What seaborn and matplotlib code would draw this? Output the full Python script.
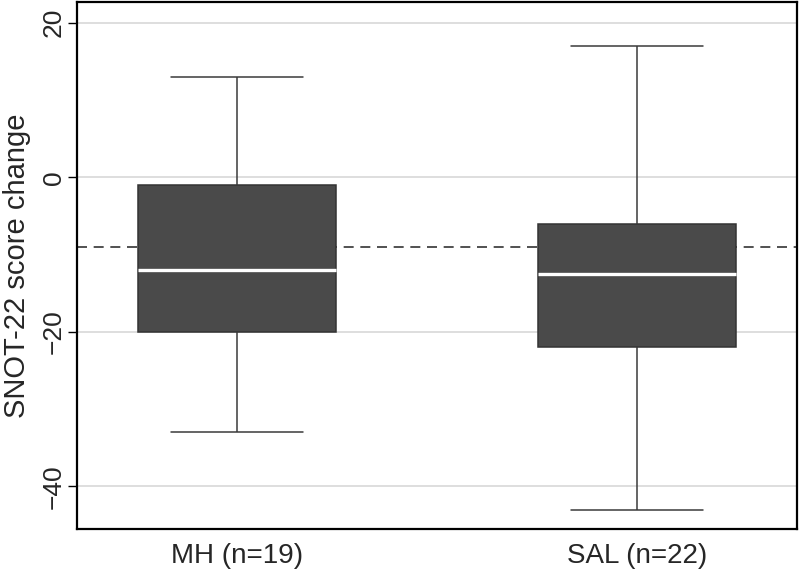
import numpy as np
import pandas as pd
import seaborn as sns
import matplotlib.pyplot as plt

# five-number summaries (min, q1, median, q3, max)
groups = ['MH (n=19)', 'SAL (n=22)']
mh_values = [-33, -20, -12, -1, 13]
sal_values = [-43, -22, -12.5, -6, 17]
overall_median = -9
y_ticks = [-40, -20, 0, 20]

df = pd.DataFrame({
    'group': [groups[0]] * len(mh_values) + [groups[1]] * len(sal_values),
    'change': mh_values + sal_values,
})

sns.set_style('white')
plt.rcParams['font.family'] = ['Liberation Sans', 'DejaVu Sans']

fig = plt.figure(figsize=(8, 5.75), dpi=100)
ax = fig.add_axes([0.096, 0.080, 0.900, 0.917])

sns.boxplot(data=df, x='group', y='change', ax=ax, whis=(0, 100),
            width=0.495, color='#4a4a4a', saturation=1, linecolor='#333333',
            linewidth=1.1,
            medianprops=dict(color='white', lw=2.4),
            whiskerprops=dict(color='#3a3a3a', lw=1.1),
            capprops=dict(color='#3a3a3a', lw=1.1),
            boxprops=dict(zorder=2))

# Stata-style caps: a bit wider than seaborn's default
cap_half = 0.165
for ln in ax.lines:
    xd = np.asarray(ln.get_xdata(), dtype=float)
    yd = np.asarray(ln.get_ydata(), dtype=float)
    if len(xd) == 2 and yd[0] == yd[1] and xd[0] != xd[1] and ln.get_color() != 'white':
        c = xd.mean()
        ln.set_xdata([c - cap_half, c + cap_half])

# grid and reference line go in after the caps are fixed
for t in y_ticks:
    ax.axhline(t, color='#d4d4d4', lw=1.1, zorder=0)
ax.axhline(overall_median, color='#333333', lw=1.2, ls=(0, (6, 4)), zorder=1)

ax.set_xlim(-0.4, 1.4)
ax.set_ylim(-45.5, 22.7)
ax.set_yticks(y_ticks)
ax.set_xlabel('')
ax.set_ylabel('SNOT-22 score change', fontsize=21, labelpad=8)
ax.tick_params(axis='y', labelsize=19, labelrotation=90, length=6.5,
               width=1, color='black', pad=1.5, left=True)
ax.tick_params(axis='x', labelsize=20, length=0, pad=10)
for lbl in ax.get_yticklabels():
    lbl.set_va('center')

for sp in ax.spines.values():
    sp.set_color('black')
    sp.set_linewidth(1.6)

fig.savefig('out.png', dpi=100)
